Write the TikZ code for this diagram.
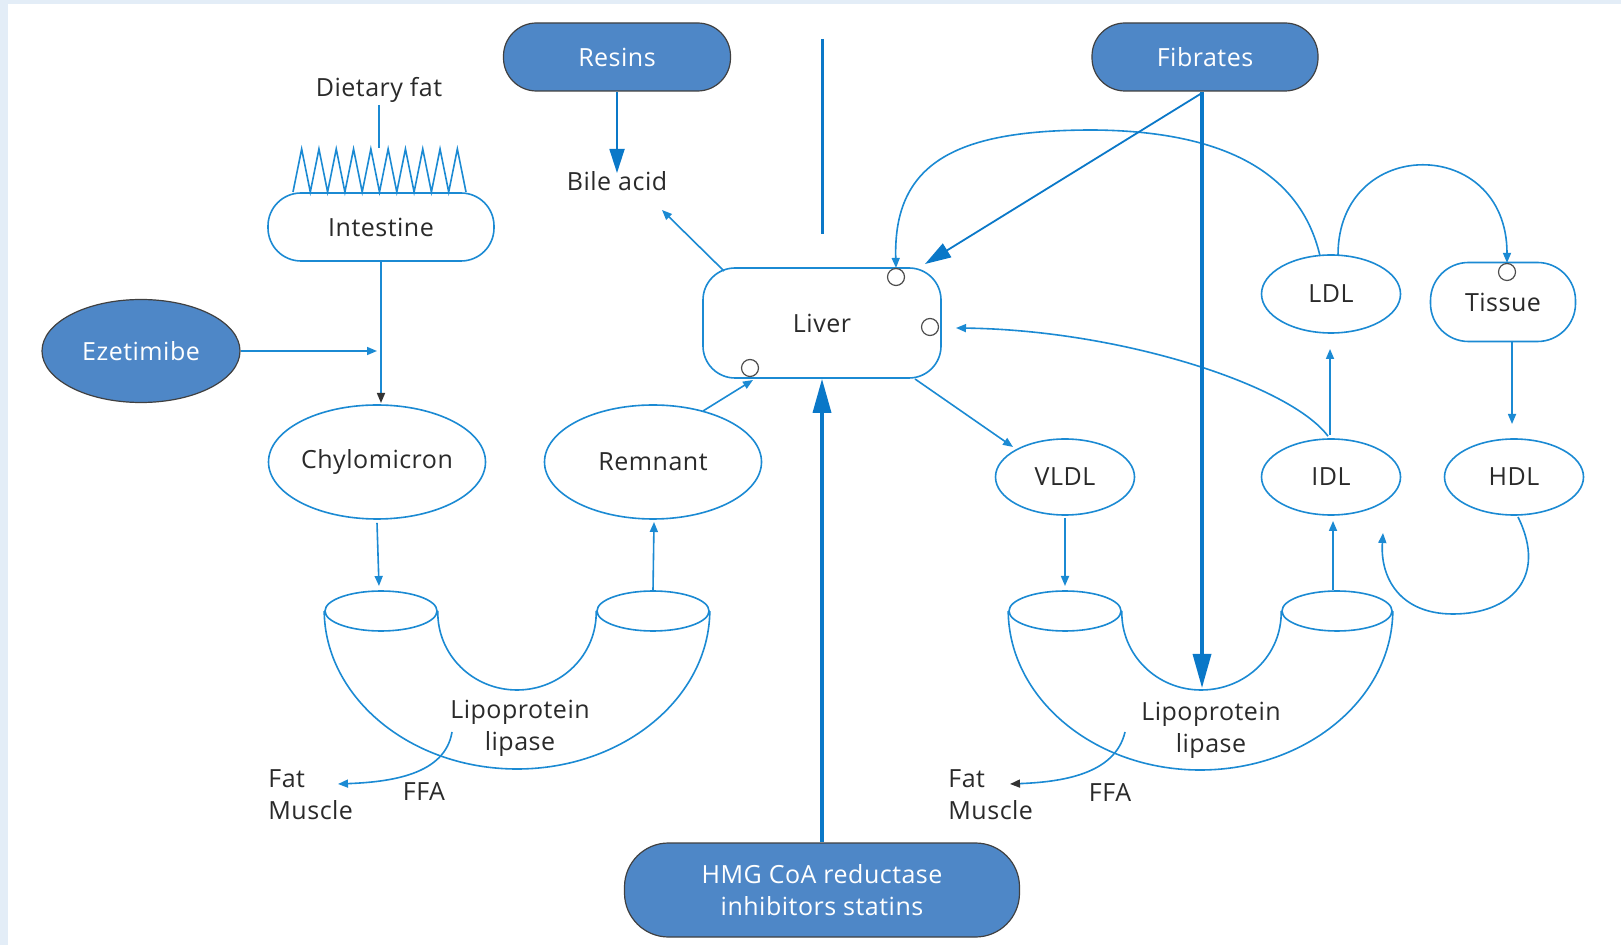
\documentclass[tikz,border=0pt]{standalone}
\usepackage{fontspec}
\setmainfont{Open Sans}[LetterSpace=2]
\usetikzlibrary{shapes.geometric,arrows.meta}
\definecolor{ln}{HTML}{1B8AD3}
\definecolor{lnd}{HTML}{0A78C8}
\definecolor{drug}{HTML}{4E87C7}
\definecolor{txt}{HTML}{2A2A2A}
\definecolor{bgband}{HTML}{E3EDF7}
\tikzset{
  lbl/.style={font=\fontsize{12.5}{16}\selectfont, text=txt, inner sep=0pt},
  wbox/.style={lbl, draw=ln, line width=0.8pt, fill=white},
  oval/.style={lbl, ellipse, draw=ln, line width=0.8pt, inner sep=0pt},
  cup/.style={ellipse, draw=ln, line width=0.8pt, minimum width=56pt, minimum height=20pt, inner sep=0pt},
  drugbox/.style={font=\fontsize{12.5}{16}\selectfont, text=white, fill=drug, draw=black!75, line width=0.6pt, inner sep=0pt},
  site/.style={circle, draw=black!70, fill=white, line width=0.6pt, minimum size=8.5pt, inner sep=0pt},
  conn/.style={ln, line width=0.8pt, -{Triangle[length=5pt,width=4pt]}},
  conndark/.style={ln, line width=0.8pt, -{Triangle[length=5pt,width=4pt,color=black!80]}},
  bigarrow/.style={lnd, line width=1.7pt, -{Triangle[length=17pt,width=9pt]}},
  pipe/.style={ln, line width=0.8pt},
}
\begin{document}
\begin{tikzpicture}[x=0.5pt, y=-0.5pt]
\useasboundingbox (0,0) rectangle (1621,945);
% frame
\fill[bgband] (0,0) rectangle (1621,945);
\fill[white] (8,4) rectangle (1621,945);

% ---- drug boxes
\node[drugbox, rounded corners=16.5pt, minimum width=113.5pt, minimum height=34pt] (resins) at (617,57) {Resins};
\node[drugbox, rounded corners=16.5pt, minimum width=113pt, minimum height=34pt] (fibrates) at (1205,57) {Fibrates};
\node[drugbox, ellipse, minimum width=99pt, minimum height=51.5pt] (ezet) at (141,351) {Ezetimibe};
\node[drugbox, rounded corners=22pt, minimum width=197.5pt, minimum height=47pt, align=center] (statins) at (822,890) {HMG CoA reductase\\inhibitors statins};

% ---- left pathway
\node[lbl] (dfat) at (379,90) {Dietary fat};
\node[wbox, rounded corners=16.5pt, minimum width=113pt, minimum height=34pt] (intestine) at (381,227) {Intestine};
\draw[pipe] (dfat.south |- 0,105) -- (379,148);
% villi
\draw[pipe] (293,192)
  \foreach \k in {0,...,9} { -- ({293+8.65+17.3*\k},149) -- ({293+17.3*(\k+1)},192) };
\node[oval, minimum width=108.5pt, minimum height=57pt] (chylo) at (377,462) {Chylomicron};
\node[oval, minimum width=108.5pt, minimum height=57pt] (remnant) at (653,462) {Remnant};

\coordinate (ezjoin) at (377,351);
\draw[conn] (ezet.east) -- (ezjoin);
\draw[conndark] (intestine.south) -- (381,403);

% left lipoprotein lipase vessel
\node[cup] (cupLa) at (381,611) {};
\node[cup] (cupLb) at (653,611) {};
\draw[pipe] (cupLa.west) .. controls (325,698) and (411,769) .. (517,769)
                         .. controls (623,769) and (709,698) .. (cupLb.east);
\draw[pipe] (cupLa.east) .. controls (437,655) and (473,690) .. (517,690)
                         .. controls (561,690) and (597,655) .. (cupLb.west);
\node[lbl, align=center] (lplL) at (520,728) {Lipoprotein\\lipase};
\node[lbl, align=left, anchor=west] (fatL) at (268,795) {Fat\\Muscle};
\node[lbl] (ffaL) at (424,792) {FFA};
\coordinate (ffaLs) at (452,732);
\coordinate (ffaLe) at (338,784);
\draw[conn] (ffaLs) .. controls (445,775) and (390,782) .. (ffaLe);

\draw[conn] (chylo.south) ++(0,3) -- (379,586);
\draw[conn] (cupLb.north) -- (654,522);

% ---- liver
\node[wbox, rounded corners=16pt, minimum width=119pt, minimum height=55pt] (liver) at (822,323) {Liver};
\node[site] (sitetop) at (896,277) {};
\node[site] (siteright) at (930,327) {};
\node[site] (sitelow) at (750,368) {};

\node[lbl] (bile) at (617,181) {Bile acid};
\coordinate (bileend) at (662,210);
\coordinate (liverul) at (724,271);
\draw[conn] (liverul) -- (bileend);
\draw[lnd, line width=0.9pt, -{Triangle[length=12pt,width=7.5pt]}] (resins.south) -- (617,173);

\coordinate (remout) at (703,411);
\draw[conn] (remout) -- (753,380);
\coordinate (topline) at (822,39);
\draw[lnd, line width=1.5pt] (topline) -- (822,234);
\draw[bigarrow] (statins.north) -- (liver.south);

% ---- right pathway
\node[oval, minimum width=69.5pt, minimum height=38pt] (vldl) at (1065,477) {VLDL};
\node[oval, minimum width=69.5pt, minimum height=38pt] (idl) at (1331,477) {IDL};
\node[oval, minimum width=69.5pt, minimum height=38pt] (hdl) at (1514,477) {HDL};
\node[oval, minimum width=69.5pt, minimum height=39pt] (ldl) at (1331,294) {LDL};
\node[wbox, rounded corners=19pt, minimum width=72.5pt, minimum height=39.5pt] (tissue) at (1503,302) {Tissue};
\node[site] (sitetissue) at (1507,272) {};

\coordinate (liverlr) at (915,379);
\draw[conn] (liverlr) -- (1013,447);

% right lipoprotein lipase vessel
\node[cup] (cupRa) at (1065,611) {};
\node[cup, minimum width=55pt] (cupRb) at (1337,611) {};
\draw[pipe] (cupRa.west) .. controls (1009,699) and (1095,770) .. (1200,770)
                         .. controls (1306,770) and (1392,699) .. (cupRb.east);
\draw[pipe] (cupRa.east) .. controls (1121,655) and (1157,690) .. (1201,690)
                         .. controls (1246,690) and (1282,655) .. (cupRb.west);
\node[lbl, align=center] (lplR) at (1211,730) {Lipoprotein\\lipase};
\node[lbl, align=left, anchor=west] (fatR) at (948,795) {Fat\\Muscle};
\node[lbl] (ffaR) at (1110,793) {FFA};
\coordinate (ffaRs) at (1125,732);
\coordinate (ffaRe) at (1010,784);
\draw[conndark] (ffaRs) .. controls (1115,775) and (1060,782) .. (ffaRe);

\draw[conn] (vldl.south) ++(0,2) -- (1065,586);
\draw[conn] (cupRb.north) ++(-4,0) -- (1333,521);
\draw[conn] (idl.north) ++(-1,-3) -- (1330,349);
\draw[conn] (tissue.south) ++(9,0) -- (1512,424);

% recycling loops
\coordinate (ldlA) at (1320,256);
\coordinate (ldlB) at (1338,255);
\draw[conn] (ldlA) .. controls (1300,170) and (1220,131) .. (1093,130)
                  .. controls (960,130) and (893,160) .. (sitetop.north);
\draw[conn] (ldlB) .. controls (1338,135) and (1507,135) .. (sitetissue.north);
\draw[conn] (idl.north) ++(-3,-2) .. controls (1290,385) and (1120,330) .. (956,328);
\coordinate (hdlout) at (1518,517);
\coordinate (idlin) at (1383,533);
\draw[conn] (hdlout) .. controls (1548,578) and (1510,614) .. (1453,614)
                     .. controls (1400,614) and (1380,578) .. (idlin);

% fibrates actions
\coordinate (fibfoot) at (1202,93);
\draw[lnd, line width=0.9pt, -{Triangle[length=13pt,width=8pt]}] (fibfoot) -- (925,264);
\draw[bigarrow] (fibrates.south -| 1202,0) -- (1202,688);
\end{tikzpicture}
\end{document}
